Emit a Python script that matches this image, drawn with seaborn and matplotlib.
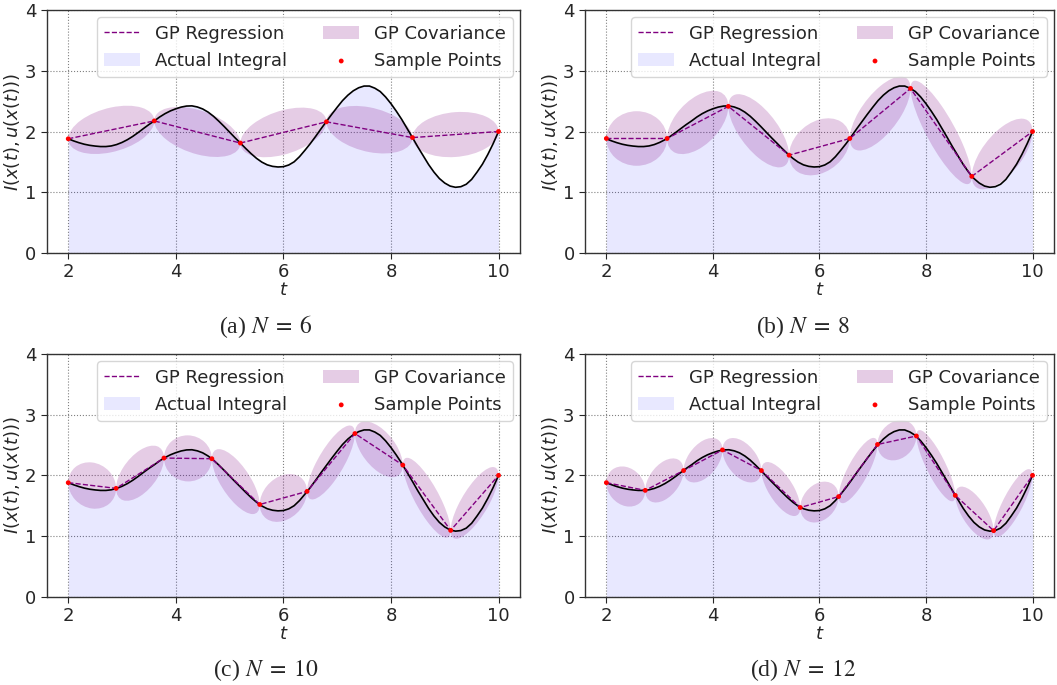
import numpy as np
import pandas as pd
import matplotlib
matplotlib.use("Agg")
import matplotlib.pyplot as plt
import seaborn as sns
from matplotlib.patches import Ellipse
from matplotlib.transforms import Affine2D

# --- krzywa "Actual Integral" (co 0.1) ---
t_curve = [2.0, 2.1, 2.2, 2.3, 2.4, 2.5, 2.6, 2.7, 2.8, 2.9,
           3.0, 3.1, 3.2, 3.3, 3.4, 3.5, 3.6, 3.7, 3.8, 3.9,
           4.0, 4.1, 4.2, 4.3, 4.4, 4.5, 4.6, 4.7, 4.8, 4.9,
           5.0, 5.1, 5.2, 5.3, 5.4, 5.5, 5.6, 5.7, 5.8, 5.9,
           6.0, 6.1, 6.2, 6.3, 6.4, 6.5, 6.6, 6.7, 6.8, 6.9,
           7.0, 7.1, 7.2, 7.3, 7.4, 7.5, 7.6, 7.7, 7.8, 7.9,
           8.0, 8.1, 8.2, 8.3, 8.4, 8.5, 8.6, 8.7, 8.8, 8.9,
           9.0, 9.1, 9.2, 9.3, 9.4, 9.5, 9.6, 9.7, 9.8, 9.9, 10.0]
i_curve = [1.880, 1.845, 1.815, 1.790, 1.772, 1.760, 1.752, 1.752, 1.762, 1.785,
           1.820, 1.865, 1.920, 1.983, 2.050, 2.115, 2.175, 2.240, 2.295, 2.340,
           2.375, 2.403, 2.420, 2.423, 2.405, 2.372, 2.320, 2.252, 2.170, 2.082,
           1.990, 1.898, 1.810, 1.720, 1.635, 1.558, 1.495, 1.450, 1.425, 1.415,
           1.420, 1.448, 1.500, 1.585, 1.690, 1.800, 1.920, 2.045, 2.165, 2.285,
           2.400, 2.510, 2.600, 2.672, 2.722, 2.750, 2.750, 2.715, 2.660, 2.570,
           2.460, 2.335, 2.200, 2.050, 1.900, 1.745, 1.600, 1.455, 1.330, 1.225,
           1.150, 1.100, 1.080, 1.090, 1.130, 1.210, 1.330, 1.460, 1.620, 1.800,
           2.000]

# --- punkty probkowania dla N = 6, 8, 10, 12 ---
t_n6 = [2.0, 3.6, 5.2, 6.8, 8.4, 10.0]
y_n6 = [1.88, 2.175, 1.81, 2.16, 1.90, 2.0]
t_n8 = [2.0, 3.14, 4.29, 5.43, 6.57, 7.71, 8.86, 10.0]
y_n8 = [1.885, 1.885, 2.415, 1.61, 1.885, 2.71, 1.26, 2.0]
t_n10 = [2.0, 2.89, 3.78, 4.67, 5.56, 6.44, 7.33, 8.22, 9.11, 10.0]
y_n10 = [1.88, 1.786, 2.286, 2.275, 1.52, 1.736, 2.69, 2.17, 1.093, 2.0]
t_n12 = [2.0, 2.73, 3.45, 4.18, 4.91, 5.64, 6.36, 7.09, 7.82, 8.55, 9.27, 10.0]
y_n12 = [1.88, 1.753, 2.08, 2.42, 2.08, 1.47, 1.65, 2.51, 2.65, 1.67, 1.088, 2.0]

# pionowa polszerokosc elips kowariancji GP (na panel)
cov_half = [0.37, 0.45, 0.38, 0.325]
panel_n = [6, 8, 10, 12]
panel_tag = ["(a)", "(b)", "(c)", "(d)"]

samples_t = [t_n6, t_n8, t_n10, t_n12]
samples_y = [y_n6, y_n8, y_n10, y_n12]

df_curve = pd.DataFrame({"t": t_curve, "I": i_curve})

sns.set_style("ticks")
plt.rcParams["font.family"] = ["DejaVu Sans"]
plt.rcParams["mathtext.fontset"] = "dejavusans"

fig = plt.figure(figsize=(10.57, 6.85), dpi=100)
axes_pos = [
    [0.0442, 0.631, 0.4478, 0.354],
    [0.5535, 0.631, 0.4435, 0.354],
    [0.0442, 0.129, 0.4478, 0.354],
    [0.5535, 0.129, 0.4435, 0.354],
]
caption_xy = [(0.251, 0.514), (0.760, 0.514), (0.251, 0.013), (0.760, 0.013)]

for k in range(4):
    ax = fig.add_axes(axes_pos[k])
    ts = samples_t[k]
    ys = samples_y[k]
    df_s = pd.DataFrame({"t": ts, "y": ys})

    # pole pod krzywa
    ax.fill_between(df_curve["t"], 0, df_curve["I"], color="blue", alpha=0.09,
                    linewidth=0, label="Actual Integral")

    # elipsy kowariancji miedzy kolejnymi punktami
    for i in range(len(ts) - 1):
        dx = ts[i + 1] - ts[i]
        dy = ys[i + 1] - ys[i]
        cx = (ts[i] + ts[i + 1]) / 2
        cy = (ys[i] + ys[i + 1]) / 2
        e = Ellipse((0, 0), 2, 2, facecolor="purple", alpha=0.2, edgecolor="none",
                    label="GP Covariance" if i == 0 else None)
        m = np.array([[dx / 2, 0, cx], [dy / 2, cov_half[k], cy], [0, 0, 1]])
        e.set_transform(Affine2D(m) + ax.transData)
        ax.add_patch(e)

    sns.lineplot(data=df_curve, x="t", y="I", ax=ax, color="black", linewidth=1.2,
                 sort=False, legend=False)
    sns.lineplot(data=df_s, x="t", y="y", ax=ax, color="purple", linewidth=1.0,
                 linestyle="--", sort=False, legend=False, label="GP Regression")
    sns.scatterplot(data=df_s, x="t", y="y", ax=ax, color="red", s=12,
                    edgecolor="none", zorder=5, label="Sample Points", legend=False)

    ax.set_xlim(1.6, 10.4)
    ax.set_ylim(0, 4)
    ax.set_xticks([2, 4, 6, 8, 10])
    ax.set_yticks([0, 1, 2, 3, 4])
    ax.tick_params(labelsize=13, length=4)
    ax.grid(True, linestyle=":", color="gray", linewidth=0.8)
    ax.set_axisbelow(True)
    for sp in ax.spines.values():
        sp.set_color("#333333")
        sp.set_linewidth(1.0)
    ax.set_xlabel("$t$", fontsize=13, labelpad=0)
    ax.set_ylabel("$I(x(t), u(x(t)))$", fontsize=13, labelpad=2)

    handles, labels = ax.get_legend_handles_labels()
    hmap = dict(zip(labels, handles))
    order = ["GP Regression", "Actual Integral", "GP Covariance", "Sample Points"]
    ax.legend([hmap[o] for o in order], order, ncol=2, loc="upper right",
              fontsize=13, framealpha=0.8, borderaxespad=0.4)

    fig.text(caption_xy[k][0], caption_xy[k][1],
             panel_tag[k] + r" $N\;=\;" + str(panel_n[k]) + "$",
             ha="center", va="baseline", fontsize=17, family="Liberation Serif",
             math_fontfamily="stix")

fig.savefig("out.png", dpi=100)
